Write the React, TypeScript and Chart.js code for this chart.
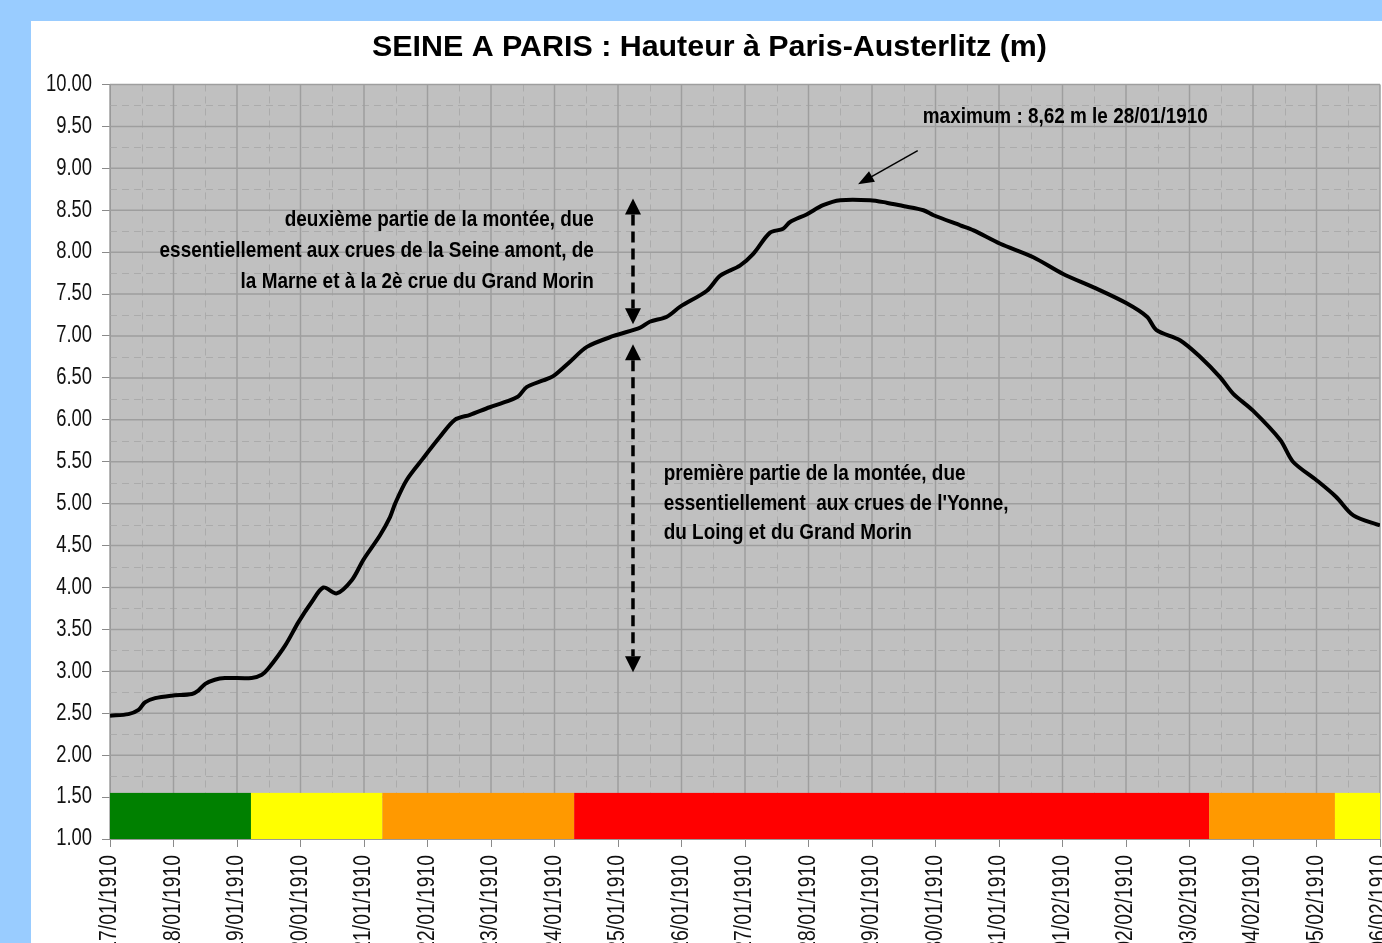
import React, { useEffect, useRef } from "react";
import { Chart, registerables } from "chart.js";

Chart.register(...registerables);

// ---------- data ----------
const DATE_LABELS = [
  "17/01/1910", "18/01/1910", "19/01/1910", "20/01/1910", "21/01/1910",
  "22/01/1910", "23/01/1910", "24/01/1910", "25/01/1910", "26/01/1910",
  "27/01/1910", "28/01/1910", "29/01/1910", "30/01/1910", "31/01/1910",
  "01/02/1910", "02/02/1910", "03/02/1910", "04/02/1910", "05/02/1910",
  "06/02/1910",
];

// days elapsed since 17/01/1910 00:00
const DAYS = [
  0, 0.29, 0.45, 0.55, 0.71, 0.97, 1.29, 1.39, 1.5, 1.65, 1.81, 2.23, 2.39, 2.49,
  2.76, 2.97, 3.18, 3.36, 3.57, 3.81, 3.99, 4.25, 4.41, 4.49, 4.67, 4.93, 5.2,
  5.43, 5.67, 5.98, 6.25, 6.43, 6.56, 6.82, 6.98, 7.24, 7.51, 7.93, 8.35, 8.5,
  8.77, 8.98, 9.4, 9.61, 9.92, 10.13, 10.39, 10.6, 10.71, 10.97, 11.23, 11.5,
  11.97, 12.23, 12.49, 12.81, 12.97, 13.39, 13.6, 14.02, 14.54, 15.01, 15.49,
  16.01, 16.33, 16.48, 16.85, 17.17, 17.48, 17.69, 18.0, 18.43, 18.63, 19.0,
  19.31, 19.58, 20.0,
];

// water height at Paris-Austerlitz (m)
const HEIGHTS = [
  2.47, 2.49, 2.54, 2.63, 2.68, 2.71, 2.73, 2.77, 2.85, 2.9, 2.92, 2.92, 2.96, 3.03,
  3.31, 3.59, 3.83, 4.0, 3.93, 4.09, 4.33, 4.62, 4.84, 5.0, 5.28, 5.54, 5.8,
  6.0, 6.06, 6.15, 6.22, 6.28, 6.39, 6.47, 6.52, 6.69, 6.87, 7.0, 7.1, 7.17,
  7.23, 7.35, 7.54, 7.72, 7.84, 7.98, 8.23, 8.28, 8.36, 8.45, 8.56, 8.62,
  8.62, 8.59, 8.55, 8.5, 8.44, 8.32, 8.26, 8.1, 7.94, 7.74, 7.58,
  7.39, 7.23, 7.07, 6.95, 6.75, 6.51, 6.31, 6.11, 5.76, 5.5, 5.28,
  5.08, 4.86, 4.74,
];

// vigilance colour band along the bottom (days)
const BAND_EDGES = [0, 2.22, 4.29, 7.31, 17.31, 19.29, 20];
const BAND_COLORS = ["#008000", "#FFFF00", "#FF9900", "#FF0000", "#FF9900", "#FFFF00"];
const BAND_LOW = 1.0;
const BAND_HIGH = 1.55;

const Y_MIN = 1;
const Y_MAX = 10;
const Y_STEP = 0.5;
const X_MIN = 0;
const X_MAX = 20;

const TITLE = "SEINE A PARIS : Hauteur à Paris-Austerlitz (m)";
const NOTE_MAX = "maximum : 8,62 m le 28/01/1910";
const NOTE_SECOND = [
  "deuxième partie de la montée, due",
  "essentiellement aux crues de la Seine amont, de",
  "la Marne et à la 2è crue du Grand Morin",
];
const NOTE_FIRST = [
  "première partie de la montée, due",
  "essentiellement  aux crues de l'Yonne,",
  "du Loing et du Grand Morin",
];

// ---------- layout / style ----------
const W = 1357;
const H = 960;
const PLOT_RIGHT = 1349;
const PAD_LEFT = 8;
const Y_AXIS_W = 71;
const SANS = '"Liberation Sans", Arial, sans-serif';
const TICK_FONT = `23px ${SANS}`;
const Y_TICK_SQUEEZE = 0.8;
const X_TICK_SQUEEZE = 0.84;
const NOTE_FONT = `bold 22px ${SANS}`;
const NOTE_SQUEEZE = 0.86;
const TICK_LEN = 8;

const ANN = {
  maxText: { d: 12.8, v: 9.61 },
  maxArrowFrom: { d: 12.72, v: 9.21 },
  maxArrowTo: { d: 11.78, v: 8.81 },
  arrowX: 8.236,
  secondArrow: [8.64, 7.14],
  firstArrow: [6.9, 2.99],
  secondText: { d: 7.62, v: [8.38, 8.01, 7.65] },
  firstText: { d: 8.72, v: [5.36, 5.0, 4.645] },
};

function arrowHead(ctx: CanvasRenderingContext2D, tx: number, ty: number, angle: number, len: number, half: number) {
  ctx.save();
  ctx.translate(tx, ty);
  ctx.rotate(angle);
  ctx.beginPath();
  ctx.moveTo(0, 0);
  ctx.lineTo(-len, -half);
  ctx.lineTo(-len, half);
  ctx.closePath();
  ctx.fill();
  ctx.restore();
}

function squeezedText(
  ctx: CanvasRenderingContext2D,
  text: string,
  x: number,
  y: number,
  squeeze: number,
  align: CanvasTextAlign,
  rotation = 0
) {
  ctx.save();
  ctx.translate(x, y);
  if (rotation) ctx.rotate(rotation);
  ctx.scale(squeeze, 1);
  ctx.textAlign = align;
  ctx.fillText(text, 0, 0);
  ctx.restore();
}

const seinePlugin = {
  id: "seinePlugin",
  beforeDraw(chart: any) {
    const { ctx, chartArea } = chart;
    ctx.save();
    ctx.fillStyle = "#C0C0C0";
    ctx.fillRect(chartArea.left, chartArea.top, chartArea.right - chartArea.left, chartArea.bottom - chartArea.top);
    ctx.restore();
  },
  beforeDatasetsDraw(chart: any) {
    const { ctx, chartArea, scales } = chart;
    const { left, right, top, bottom } = chartArea;
    const x = scales.x;
    const y = scales.y;
    ctx.save();
    // minor dashed grid
    ctx.setLineDash([7, 5]);
    ctx.strokeStyle = "#ABABAB";
    ctx.lineWidth = 1;
    for (let d = X_MIN + 0.5; d < X_MAX; d += 1) {
      const px = Math.round(x.getPixelForValue(d)) + 0.5;
      ctx.beginPath();
      ctx.moveTo(px, top);
      ctx.lineTo(px, bottom);
      ctx.stroke();
    }
    for (let v = Y_MIN + Y_STEP / 2; v < Y_MAX; v += Y_STEP) {
      const py = Math.round(y.getPixelForValue(v)) + 0.5;
      ctx.beginPath();
      ctx.moveTo(left, py);
      ctx.lineTo(right, py);
      ctx.stroke();
    }
    // major solid grid
    ctx.setLineDash([]);
    ctx.strokeStyle = "#9E9E9E";
    ctx.lineWidth = 1.5;
    for (let d = X_MIN; d <= X_MAX; d += 1) {
      const px = x.getPixelForValue(d);
      ctx.beginPath();
      ctx.moveTo(px, top);
      ctx.lineTo(px, bottom);
      ctx.stroke();
    }
    for (let v = Y_MIN; v <= Y_MAX + 1e-9; v += Y_STEP) {
      const py = y.getPixelForValue(v);
      ctx.beginPath();
      ctx.moveTo(left, py);
      ctx.lineTo(right, py);
      ctx.stroke();
    }
    // colour band
    const yTop = y.getPixelForValue(BAND_HIGH);
    const yBot = y.getPixelForValue(BAND_LOW);
    for (let i = 0; i < BAND_COLORS.length; i++) {
      const x0 = x.getPixelForValue(BAND_EDGES[i]);
      const x1 = x.getPixelForValue(BAND_EDGES[i + 1]);
      ctx.fillStyle = BAND_COLORS[i];
      ctx.fillRect(x0, yTop, x1 - x0, yBot - yTop);
    }
    ctx.restore();
  },
  afterDatasetsDraw(chart: any) {
    const { ctx, scales, chartArea } = chart;
    const x = scales.x;
    const y = scales.y;
    const P = (d: number, v: number) => [x.getPixelForValue(d), y.getPixelForValue(v)];
    ctx.save();
    ctx.fillStyle = "#000";
    ctx.strokeStyle = "#000";

    // ---- axis tick labels (condensed, like the original) ----
    ctx.font = TICK_FONT;
    ctx.fillStyle = "#111";
    ctx.textBaseline = "middle";
    y.ticks.forEach((t: any) => {
      const py = y.getPixelForValue(t.value);
      squeezedText(ctx, String(t.label), chartArea.left - TICK_LEN - 10, py, Y_TICK_SQUEEZE, "right");
    });
    x.ticks.forEach((t: any) => {
      const px = x.getPixelForValue(t.value);
      squeezedText(ctx, String(t.label), px, chartArea.bottom + TICK_LEN + 8, X_TICK_SQUEEZE, "right", -Math.PI / 2);
    });

    // ---- annotations ----
    ctx.fillStyle = "#000";
    ctx.font = NOTE_FONT;
    ctx.textBaseline = "middle";

    const [mx, my] = P(ANN.maxText.d, ANN.maxText.v);
    squeezedText(ctx, NOTE_MAX, mx, my, NOTE_SQUEEZE, "left");
    const [ax0, ay0] = P(ANN.maxArrowFrom.d, ANN.maxArrowFrom.v);
    const [ax1, ay1] = P(ANN.maxArrowTo.d, ANN.maxArrowTo.v);
    const ang = Math.atan2(ay1 - ay0, ax1 - ax0);
    ctx.lineWidth = 1.5;
    ctx.beginPath();
    ctx.moveTo(ax0, ay0);
    ctx.lineTo(ax1 - Math.cos(ang) * 10, ay1 - Math.sin(ang) * 10);
    ctx.stroke();
    arrowHead(ctx, ax1, ay1, ang, 16, 6);

    NOTE_SECOND.forEach((t, i) => {
      const [tx, ty] = P(ANN.secondText.d, ANN.secondText.v[i]);
      squeezedText(ctx, t, tx, ty, NOTE_SQUEEZE, "right");
    });
    NOTE_FIRST.forEach((t, i) => {
      const [tx, ty] = P(ANN.firstText.d, ANN.firstText.v[i]);
      squeezedText(ctx, t, tx, ty, NOTE_SQUEEZE, "left");
    });

    const drawDouble = (vTop: number, vBot: number) => {
      const [px, pTop] = P(ANN.arrowX, vTop);
      const [, pBot] = P(ANN.arrowX, vBot);
      const head = 16;
      ctx.save();
      ctx.lineWidth = 3.5;
      ctx.setLineDash([11, 6]);
      ctx.beginPath();
      ctx.moveTo(px, pTop + head);
      ctx.lineTo(px, pBot - head);
      ctx.stroke();
      ctx.restore();
      arrowHead(ctx, px, pTop, -Math.PI / 2, head, 8);
      arrowHead(ctx, px, pBot, Math.PI / 2, head, 8);
    };
    drawDouble(ANN.secondArrow[0], ANN.secondArrow[1]);
    drawDouble(ANN.firstArrow[0], ANN.firstArrow[1]);
    ctx.restore();
  },
};

export default function App() {
  const canvasRef = useRef<HTMLCanvasElement | null>(null);

  useEffect(() => {
    const canvas = canvasRef.current;
    if (!canvas) return;
    const points = DAYS.map((d, i) => ({ x: d, y: HEIGHTS[i] }));
    const chart = new Chart(canvas, {
      type: "line",
      data: {
        datasets: [
          {
            label: "Hauteur (m)",
            data: points,
            borderColor: "#000000",
            borderWidth: 4,
            pointRadius: 0,
            tension: 0.3,
            fill: false,
          },
        ],
      },
      options: {
        responsive: false,
        maintainAspectRatio: false,
        animation: false,
        devicePixelRatio: 1,
        layout: { padding: { left: PAD_LEFT, right: W - PLOT_RIGHT, top: 0, bottom: 0 } },
        plugins: {
          legend: { display: false },
          tooltip: { enabled: false },
          title: {
            display: true,
            text: TITLE,
            color: "#000",
            font: { family: SANS, size: 30.4, weight: "bold" },
            padding: { top: 8, bottom: 19 },
          },
        },
        scales: {
          x: {
            type: "linear",
            min: X_MIN,
            max: X_MAX,
            ticks: {
              stepSize: 1,
              autoSkip: false,
              maxRotation: 90,
              minRotation: 90,
              color: "rgba(0,0,0,0)",
              callback: (v: any) => DATE_LABELS[Math.round(Number(v))] ?? "",
            },
            grid: { drawOnChartArea: false, drawTicks: true, tickLength: TICK_LEN, color: "#8a8a8a" },
            border: { display: true, color: "#8a8a8a" },
            afterFit: (s: any) => {
              s.height = H - 818;
              s.paddingLeft = 0;
              s.paddingRight = 0;
            },
          },
          y: {
            type: "linear",
            min: Y_MIN,
            max: Y_MAX,
            ticks: {
              stepSize: Y_STEP,
              color: "rgba(0,0,0,0)",
              callback: (v: any) => Number(v).toFixed(2),
            },
            grid: { drawOnChartArea: false, drawTicks: true, tickLength: TICK_LEN, color: "#8a8a8a" },
            border: { display: true, color: "#8a8a8a" },
            afterFit: (s: any) => {
              s.width = Y_AXIS_W;
              s.paddingTop = 0;
              s.paddingBottom = 0;
            },
          },
        },
      },
      plugins: [seinePlugin],
    } as any);
    return () => chart.destroy();
  }, []);

  return (
    <div
      style={{
        position: "fixed",
        left: 0,
        top: 0,
        width: "100vw",
        height: "100vh",
        background: "#99CCFF",
        overflow: "hidden",
      }}
    >
      <div
        style={{
          position: "absolute",
          left: 31,
          top: 21,
          width: W + 40,
          height: H + 20,
          background: "#FFFFFF",
          overflow: "hidden",
        }}
      >
        <canvas ref={canvasRef} width={W} height={H} style={{ display: "block", width: W, height: H }} />
      </div>
    </div>
  );
}
